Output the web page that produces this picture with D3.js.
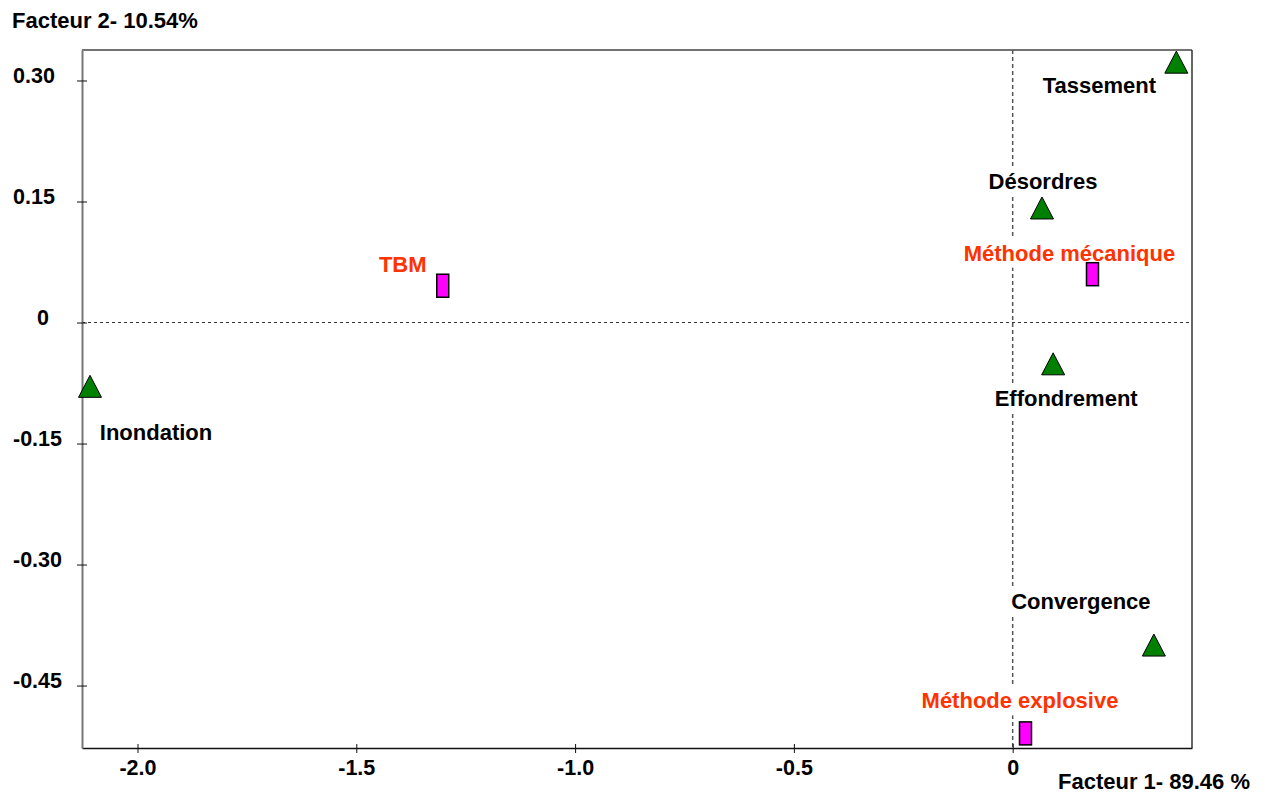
<!DOCTYPE html>
<html>
<head>
<meta charset="utf-8">
<script src="https://cdn.jsdelivr.net/npm/d3@7"></script>
<style>
  html, body { margin: 0; padding: 0; background: #fff; }
  svg { display: block; font-family: "Liberation Sans", Arial, Helvetica, sans-serif; font-weight: bold; }
</style>
</head>
<body>
<svg id="chart" width="1270" height="793"></svg>
<script>
// ---- data ----
const pointNames = ["Tassement", "Désordres", "Effondrement", "Inondation", "Convergence"];
const pointF1    = [0.374, 0.067, 0.0925, -2.1085, 0.3227];
const pointF2    = [0.3227, 0.142, -0.0512, -0.0791, -0.3998];

const methodNames = ["TBM", "Méthode mécanique", "Méthode explosive"];
const methodF1    = [-1.3024, 0.1824, 0.0293];
const methodF2    = [0.0456, 0.0599, -0.5093];

const xTicks = [-2.0, -1.5, -1.0, -0.5, 0];
const xTickLabels = ["-2.0", "-1.5", "-1.0", "-0.5", "0"];
const yTicks = [0.30, 0.15, 0, -0.15, -0.30, -0.45];
const yTickLabels = ["0.30", "0.15", "0", "-0.15", "-0.30", "-0.45"];

const xTitle = "Facteur 1- 89.46 %";
const yTitle = "Facteur 2- 10.54%";

// ---- layout (label offsets relative to markers, in px) ----
const pointLabelOffsets = [[-77, 31], [1, -19], [13, 42], [66, 54], [-73, -36]];
const methodLabelOffsets = [[-40, -14], [-23, -13.5], [-5.5, -25]];

const svg = d3.select("#chart");
const L = 82, R = 1192, T = 50, B = 748;

const x = d3.scaleLinear().domain([-2.1268, 0.4098]).range([L, R]);
const y = d3.scaleLinear().domain([0.3378, -0.5274]).range([T, B]);

// frame
svg.append("line").attr("x1", L).attr("x2", R).attr("y1", T).attr("y2", T)
  .attr("stroke", "#444").attr("stroke-width", 1.5);
svg.append("line").attr("x1", R).attr("x2", R).attr("y1", T).attr("y2", B)
  .attr("stroke", "#333").attr("stroke-width", 1.5);

// dashed zero lines
svg.append("line").attr("x1", L).attr("x2", R).attr("y1", y(0)).attr("y2", y(0))
  .attr("stroke", "#333").attr("stroke-width", 1).attr("stroke-dasharray", "3,3");
svg.append("line").attr("x1", x(0)).attr("x2", x(0)).attr("y1", T).attr("y2", B)
  .attr("stroke", "#555").attr("stroke-width", 1.5).attr("stroke-dasharray", "4,3");

// axes
const xAxis = d3.axisBottom(x).tickValues(xTicks).tickSize(0).tickFormat("");
const gx = svg.append("g").attr("transform", `translate(0,${B})`).call(xAxis);
gx.select(".domain").attr("stroke", "#111").attr("stroke-width", 1.5);
gx.selectAll(".tick").append("line").attr("y1", -4).attr("y2", 5).attr("stroke", "#111");
gx.selectAll(".tick text").remove();
gx.selectAll(".tick").append("text")
  .attr("y", 27).attr("text-anchor", "middle").attr("fill", "#000")
  .style("font-size", "21.5px").style("font-family", "'Liberation Sans', Arial, sans-serif")
  .style("font-weight", "bold")
  .text((d, i) => xTickLabels[i]);

const yAxis = d3.axisLeft(y).tickValues(yTicks).tickSize(0).tickFormat("");
const gy = svg.append("g").attr("transform", `translate(${L},0)`).call(yAxis);
gy.select(".domain").attr("stroke", "#777").attr("stroke-width", 2);
gy.selectAll(".tick").append("line").attr("x1", -5).attr("x2", 5).attr("stroke", "#111");
gy.selectAll(".tick text").remove();
gy.selectAll(".tick").append("text")
  .attr("x", (d, i) => yTickLabels[i] === "0" ? -45 : -69)
  .attr("y", 2).attr("text-anchor", "start").attr("fill", "#000")
  .style("font-size", "21.5px").style("font-family", "'Liberation Sans', Arial, sans-serif")
  .style("font-weight", "bold")
  .text((d, i) => yTickLabels[i]);

// axis titles
svg.append("text").attr("x", 12).attr("y", 28).attr("fill", "#000")
  .style("font-size", "22px").text(yTitle);
svg.append("text").attr("x", 1058).attr("y", 789).attr("fill", "#000")
  .style("font-size", "22px").text(xTitle);

// labels with white background
function addLabel(txt, cx, by, color) {
  const g = svg.append("g");
  const t = g.append("text").attr("x", cx).attr("y", by).attr("text-anchor", "middle")
    .attr("fill", color).style("font-size", "22px").text(txt);
  const bb = t.node().getBBox();
  g.insert("rect", "text").attr("x", bb.x - 3).attr("y", bb.y - 2)
    .attr("width", bb.width + 6).attr("height", bb.height + 4).attr("fill", "#fff");
}

pointNames.forEach((n, i) => {
  const px = x(pointF1[i]), py = y(pointF2[i]);
  addLabel(n, px + pointLabelOffsets[i][0], py + pointLabelOffsets[i][1], "#000");
});
methodNames.forEach((n, i) => {
  const px = x(methodF1[i]), py = y(methodF2[i]);
  addLabel(n, px + methodLabelOffsets[i][0], py + methodLabelOffsets[i][1], "#ff3300");
});

// triangles
svg.append("g").selectAll("path").data(pointNames).join("path")
  .attr("transform", (d, i) => `translate(${x(pointF1[i])},${y(pointF2[i])})`)
  .attr("d", "M0,-11 L11.5,11 L-11.5,11 Z")
  .attr("fill", "#008000").attr("stroke", "#000").attr("stroke-width", 1);

// rectangles
svg.append("g").selectAll("rect").data(methodNames).join("rect")
  .attr("x", (d, i) => x(methodF1[i]) - 6)
  .attr("y", (d, i) => y(methodF2[i]) - 11.5)
  .attr("width", 12).attr("height", 23)
  .attr("fill", "#ff00ff").attr("stroke", "#000").attr("stroke-width", 1.5);
</script>
</body>
</html>
